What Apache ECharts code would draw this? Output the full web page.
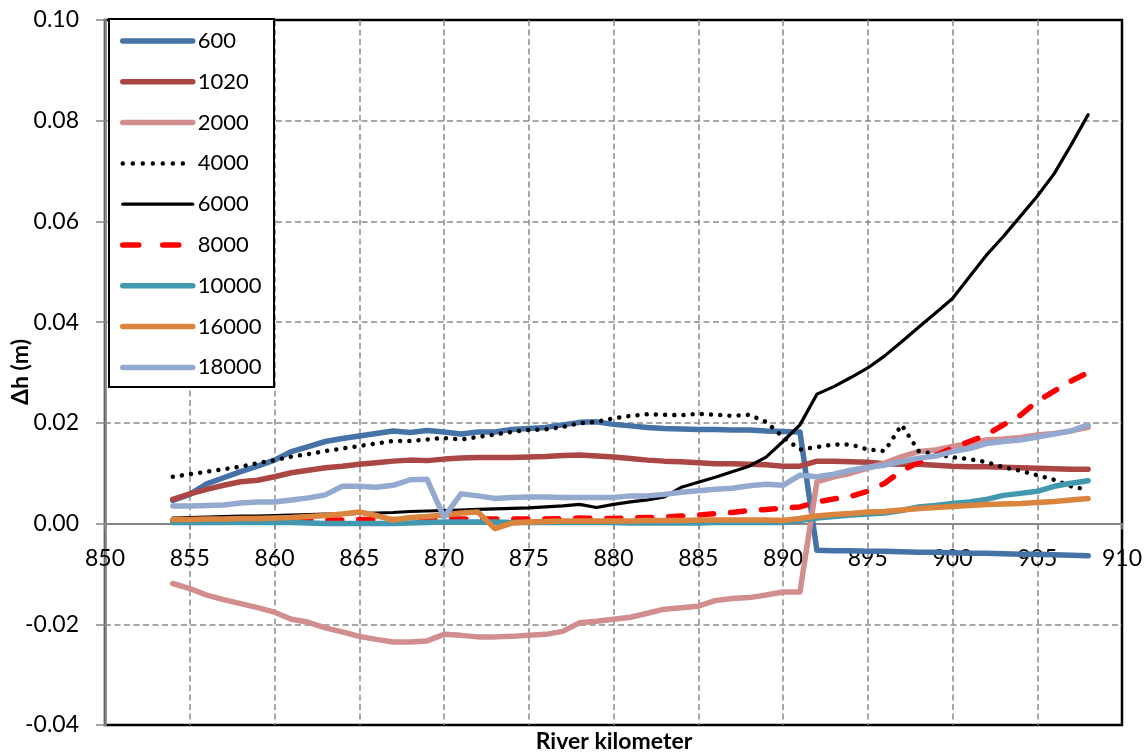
<!DOCTYPE html>
<html>
<head>
<meta charset="utf-8">
<script src="https://cdn.jsdelivr.net/npm/echarts@6/dist/echarts.min.js"></script>
<style>
  html, body { margin: 0; padding: 0; background: #fff; }
  #chart { width: 1147px; height: 755px; }
</style>
</head>
<body>
<div id="chart"></div>
<script>
// River kilometre stations (x values)
const km = [854, 855, 856, 857, 858, 859, 860, 861, 862, 863, 864, 865, 866, 867, 868, 869, 870, 871, 872, 873,
  874, 875, 876, 877, 878, 879, 880, 881, 882, 883, 884, 885, 886, 887, 888, 889, 890, 891, 892, 893,
  894, 895, 896, 897, 898, 899, 900, 901, 902, 903, 904, 905, 906, 907, 908];

// Water level change Δh (m) per discharge case
const s600 = [0.0046, 0.0058, 0.0079, 0.0091, 0.0103, 0.0114, 0.0126, 0.0143, 0.0153, 0.0163, 0.0169, 0.0174, 0.0179, 0.0184, 0.0181, 0.0185, 0.0182, 0.0178, 0.0182, 0.0182,
  0.0187, 0.0189, 0.0191, 0.0196, 0.0201, 0.0202, 0.0197, 0.0194, 0.0191, 0.0189, 0.0188, 0.0187, 0.0187, 0.0186, 0.0186, 0.0184, 0.0183, 0.0182, -0.0053, -0.0054,
  -0.0054, -0.0055, -0.0055, -0.0056, -0.0057, -0.0057, -0.0058, -0.0059, -0.0059, -0.0060, -0.0061, -0.0061, -0.0062, -0.0063, -0.0064];
const s1020 = [0.0048, 0.0059, 0.0068, 0.0076, 0.0083, 0.0086, 0.0093, 0.0101, 0.0106, 0.0111, 0.0114, 0.0118, 0.0121, 0.0124, 0.0126, 0.0125, 0.0128, 0.0130, 0.0131, 0.0131,
  0.0131, 0.0132, 0.0133, 0.0135, 0.0136, 0.0134, 0.0132, 0.0129, 0.0126, 0.0124, 0.0123, 0.0121, 0.0119, 0.0119, 0.0118, 0.0117, 0.0114, 0.0114, 0.0124, 0.0124,
  0.0123, 0.0122, 0.0119, 0.0118, 0.0118, 0.0116, 0.0114, 0.0113, 0.0113, 0.0112, 0.0111, 0.0110, 0.0109, 0.0108, 0.0108];
const s2000 = [-0.0119, -0.0129, -0.0142, -0.0151, -0.0159, -0.0167, -0.0176, -0.0190, -0.0196, -0.0207, -0.0215, -0.0224, -0.0230, -0.0235, -0.0235, -0.0233, -0.0220, -0.0222, -0.0225, -0.0225,
  -0.0224, -0.0222, -0.0220, -0.0214, -0.0197, -0.0194, -0.0190, -0.0186, -0.0178, -0.0170, -0.0167, -0.0164, -0.0153, -0.0149, -0.0147, -0.0142, -0.0136, -0.0136, 0.0083, 0.0093,
  0.0100, 0.0110, 0.0120, 0.0133, 0.0143, 0.0146, 0.0153, 0.0159, 0.0166, 0.0168, 0.0171, 0.0176, 0.0179, 0.0184, 0.0191];
const s4000 = [0.0093, 0.0098, 0.0103, 0.0108, 0.0113, 0.0120, 0.0126, 0.0133, 0.0138, 0.0144, 0.0149, 0.0154, 0.0159, 0.0164, 0.0164, 0.0167, 0.0170, 0.0167, 0.0172, 0.0177,
  0.0182, 0.0186, 0.0187, 0.0192, 0.0199, 0.0202, 0.0209, 0.0214, 0.0217, 0.0216, 0.0215, 0.0218, 0.0216, 0.0214, 0.0216, 0.0202, 0.0172, 0.0147, 0.0152, 0.0157,
  0.0157, 0.0147, 0.0144, 0.0196, 0.0144, 0.0138, 0.0132, 0.0128, 0.0122, 0.0112, 0.0105, 0.0096, 0.0087, 0.0074, 0.0067];
const s6000 = [0.0011, 0.0012, 0.0013, 0.0014, 0.0015, 0.0015, 0.0016, 0.0017, 0.0018, 0.0019, 0.0019, 0.0020, 0.0021, 0.0022, 0.0024, 0.0025, 0.0026, 0.0027, 0.0028, 0.0029,
  0.0030, 0.0031, 0.0033, 0.0035, 0.0038, 0.0032, 0.0038, 0.0043, 0.0047, 0.0053, 0.0072, 0.0082, 0.0092, 0.0103, 0.0114, 0.0132, 0.0163, 0.0196, 0.0257, 0.0272,
  0.0290, 0.0309, 0.0333, 0.0361, 0.0390, 0.0418, 0.0447, 0.0490, 0.0533, 0.0570, 0.0610, 0.0650, 0.0695, 0.0752, 0.0812];
const s8000 = [0.0005, 0.0005, 0.0005, 0.0006, 0.0006, 0.0006, 0.0006, 0.0007, 0.0007, 0.0007, 0.0007, 0.0008, 0.0008, 0.0008, 0.0008, 0.0008, 0.0009, 0.0009, 0.0009, 0.0009,
  0.0009, 0.0009, 0.0009, 0.0010, 0.0011, 0.0010, 0.0010, 0.0011, 0.0012, 0.0013, 0.0015, 0.0017, 0.0020, 0.0022, 0.0026, 0.0028, 0.0031, 0.0033, 0.0043, 0.0049,
  0.0054, 0.0064, 0.0080, 0.0105, 0.0121, 0.0135, 0.0150, 0.0163, 0.0176, 0.0196, 0.0215, 0.0243, 0.0263, 0.0283, 0.0300];
const s10000 = [0.0002, 0.0002, 0.0002, 0.0002, 0.0002, 0.0002, 0.0002, 0.0002, 0.0001, 0.0000, 0.0000, 0.0000, 0.0000, 0.0000, 0.0001, 0.0002, 0.0003, 0.0003, 0.0003, 0.0003,
  0.0002, 0.0002, 0.0002, 0.0002, 0.0002, 0.0002, 0.0002, 0.0001, 0.0001, 0.0001, 0.0001, 0.0001, 0.0002, 0.0002, 0.0002, 0.0002, 0.0002, 0.0006, 0.0011, 0.0014,
  0.0017, 0.0019, 0.0021, 0.0026, 0.0033, 0.0036, 0.0040, 0.0043, 0.0048, 0.0056, 0.0060, 0.0064, 0.0074, 0.0080, 0.0085];
const s16000 = [0.0008, 0.0008, 0.0009, 0.0009, 0.0010, 0.0010, 0.0011, 0.0012, 0.0014, 0.0016, 0.0019, 0.0023, 0.0016, 0.0007, 0.0012, 0.0014, 0.0017, 0.0021, 0.0023, -0.0010,
  0.0001, 0.0003, 0.0004, 0.0005, 0.0005, 0.0005, 0.0005, 0.0005, 0.0006, 0.0006, 0.0006, 0.0007, 0.0007, 0.0007, 0.0007, 0.0007, 0.0006, 0.0010, 0.0015, 0.0018,
  0.0020, 0.0023, 0.0024, 0.0027, 0.0030, 0.0032, 0.0034, 0.0036, 0.0038, 0.0039, 0.0040, 0.0042, 0.0044, 0.0047, 0.0050];
const s18000 = [0.0035, 0.0035, 0.0036, 0.0037, 0.0041, 0.0043, 0.0043, 0.0047, 0.0051, 0.0057, 0.0074, 0.0074, 0.0072, 0.0076, 0.0087, 0.0088, 0.0013, 0.0059, 0.0055, 0.0050,
  0.0052, 0.0053, 0.0053, 0.0052, 0.0052, 0.0052, 0.0052, 0.0055, 0.0055, 0.0058, 0.0062, 0.0065, 0.0068, 0.0070, 0.0075, 0.0078, 0.0076, 0.0096, 0.0093, 0.0098,
  0.0106, 0.0112, 0.0116, 0.0123, 0.0130, 0.0134, 0.0143, 0.0149, 0.0159, 0.0163, 0.0166, 0.0172, 0.0178, 0.0184, 0.0196];

const seriesNames = ['600', '1020', '2000', '4000', '6000', '8000', '10000', '16000', '18000'];
const seriesValues = [s600, s1020, s2000, s4000, s6000, s8000, s10000, s16000, s18000];

// y-axis range and tick step
const Y_MIN = -0.04, Y_MAX = 0.10, Y_STEP = 0.02;

const FONT = 'Lato, "Open Sans", sans-serif';

// plot box in pixels
const GRID = { left: 105, right: 25, top: 20, bottom: 30 };
const CHART_H = 755;
const plotH = CHART_H - GRID.top - GRID.bottom;
// the x axis sits on the zero line: shift it up from the bottom edge
const zeroShift = plotH * (0 - Y_MIN) / (Y_MAX - Y_MIN);

// line appearance per series
const styles = [
  { color: '#4572A7', width: 5.5, type: 'solid' },
  { color: '#AA4643', width: 5.5, type: 'solid' },
  { color: '#D28E8E', width: 5.5, type: 'solid' },
  { color: '#000000', width: 4.5, type: [0.01, 9.2] },
  { color: '#000000', width: 3.2, type: 'solid' },
  { color: '#FF0000', width: 5.5, type: [14, 17] },
  { color: '#4198AF', width: 5.5, type: 'solid' },
  { color: '#DB843D', width: 5.5, type: 'solid' },
  { color: '#93A9CF', width: 5.5, type: 'solid' }
];

const series = seriesNames.map((name, i) => ({
  name: name,
  type: 'line',
  symbol: 'none',
  smooth: false,
  data: km.map((k, j) => [k, seriesValues[i][j]]),
  lineStyle: { color: styles[i].color, width: styles[i].width, type: styles[i].type, cap: 'round', join: 'round' },
  itemStyle: { color: styles[i].color },
  emphasis: { disabled: true }
}));

const legendData = seriesNames.map((name, i) => {
  let type = styles[i].type;
  if (name === '4000') type = [0.01, 10];
  if (name === '8000') type = [16, 24];
  return {
    name: name,
    lineStyle: { color: styles[i].color, width: styles[i].width, type: type, cap: 'round' }
  };
});

const chart = echarts.init(document.getElementById('chart'), null, { renderer: 'canvas' });

chart.setOption({
  animation: false,
  backgroundColor: '#ffffff',
  grid: {
    left: GRID.left, right: GRID.right, top: GRID.top, bottom: GRID.bottom,
    show: true, borderColor: '#000000', borderWidth: 2.5,
    containLabel: false, outerBoundsMode: 'none'
  },
  xAxis: {
    type: 'value',
    position: 'bottom',
    offset: -zeroShift,
    min: 850, max: 910, interval: 5,
    axisLine: { onZero: false, lineStyle: { color: '#868686', width: 2 } },
    axisTick: { show: true, inside: false, length: 6, lineStyle: { color: '#868686', width: 1.5 } },
    axisLabel: { margin: 24, fontFamily: FONT, fontSize: 23, color: '#000', lineHeight: 23 },
    splitLine: { show: true, showMinLine: false, showMaxLine: false, lineStyle: { color: '#8a8a8a', width: 1.5, type: [6, 3.5] } }
  },
  yAxis: {
    type: 'value',
    min: Y_MIN, max: Y_MAX, interval: Y_STEP,
    axisLine: { show: true, onZero: false, lineStyle: { color: '#868686', width: 2.5 } },
    axisTick: { show: true, inside: false, length: 9, lineStyle: { color: '#868686', width: 1.5 } },
    axisLabel: { margin: 26, fontFamily: FONT, fontSize: 23, color: '#000', formatter: v => v.toFixed(2) },
    splitLine: { show: true, showMinLine: false, showMaxLine: false, lineStyle: { color: '#8a8a8a', width: 1.5, type: [6, 3.5] } }
  },
  legend: {
    show: true,
    orient: 'vertical',
    left: 120, top: 30,
    itemWidth: 70, itemHeight: 20, itemGap: 18.8,
    padding: 0,
    z: 60,
    selectedMode: false,
    itemStyle: { opacity: 0 },
    textStyle: { fontFamily: FONT, fontSize: 22, color: '#000', lineHeight: 22 },
    data: legendData
  },
  graphic: {
    elements: [
      {
        type: 'rect', z: 50, silent: true,
        shape: { x: 109, y: 19, width: 165, height: 368 },
        style: { fill: '#ffffff', stroke: '#000000', lineWidth: 2 }
      },
      {
        type: 'text', z: 50, silent: true,
        x: 614, y: 742,
        style: { text: 'River kilometer', fontFamily: FONT, fontWeight: 'bold', fontSize: 23, fill: '#000', align: 'center', verticalAlign: 'middle' }
      },
      {
        type: 'text', z: 50, silent: true,
        x: 21, y: 372, rotation: Math.PI / 2,
        style: { text: 'Δh (m)', fontFamily: FONT, fontWeight: 'bold', fontSize: 23, fill: '#000', align: 'center', verticalAlign: 'middle' }
      }
    ]
  },
  series: series
});
</script>
</body>
</html>
